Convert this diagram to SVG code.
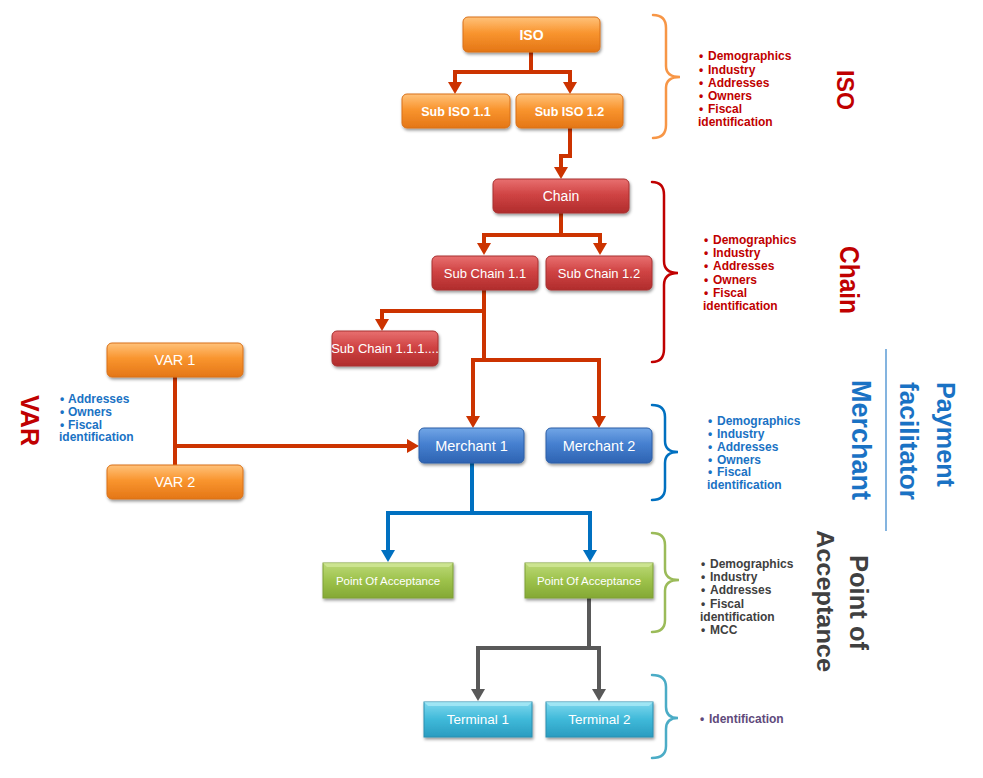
<svg xmlns="http://www.w3.org/2000/svg" width="983" height="778" viewBox="0 0 983 778">
<style>
.nt{font-family:"Liberation Sans",Arial,sans-serif;fill:#fff;text-anchor:middle;}
.b{font-weight:bold;}
.bl{font-family:"Liberation Sans",Arial,sans-serif;font-weight:bold;font-size:12px;}
.ttl{font-family:"Liberation Sans",Arial,sans-serif;font-weight:bold;}
.c-red{stroke:#cc3300;stroke-width:4;fill:none;}
.c-blue{stroke:#0070c0;stroke-width:4;fill:none;}
.c-gray{stroke:#595959;stroke-width:4;fill:none;}
.brace{fill:none;stroke-width:2.5;stroke-linecap:round;}
</style>
<defs>
<filter id="sh" x="-10%" y="-20%" width="130%" height="160%">
<feDropShadow dx="1" dy="2" stdDeviation="1.5" flood-color="#000" flood-opacity="0.4"/>
</filter>
<linearGradient id="gO" x1="0" y1="0" x2="0" y2="1">
<stop offset="0" stop-color="#ffc27a"/><stop offset="0.45" stop-color="#f9952f"/><stop offset="1" stop-color="#e47616"/>
</linearGradient>
<linearGradient id="gR" x1="0" y1="0" x2="0" y2="1">
<stop offset="0" stop-color="#e87070"/><stop offset="0.45" stop-color="#d04444"/><stop offset="1" stop-color="#b02c2c"/>
</linearGradient>
<linearGradient id="gB" x1="0" y1="0" x2="0" y2="1">
<stop offset="0" stop-color="#72a6e6"/><stop offset="0.45" stop-color="#4680d0"/><stop offset="1" stop-color="#2e63b2"/>
</linearGradient>
<linearGradient id="gG" x1="0" y1="0" x2="0" y2="1">
<stop offset="0" stop-color="#bcd978"/><stop offset="0.5" stop-color="#9dc24b"/><stop offset="1" stop-color="#84a834"/>
</linearGradient>
<linearGradient id="gT" x1="0" y1="0" x2="0" y2="1">
<stop offset="0" stop-color="#7fd8ee"/><stop offset="0.5" stop-color="#3fb9d9"/><stop offset="1" stop-color="#2a9cc0"/>
</linearGradient>
<marker id="aR" viewBox="0 0 12 14" refX="0" refY="7" markerWidth="12" markerHeight="14" markerUnits="userSpaceOnUse" orient="auto"><path d="M0,0 L12,7 L0,14 z" fill="#cc3300"/></marker>
<marker id="aB" viewBox="0 0 12 14" refX="0" refY="7" markerWidth="12" markerHeight="14" markerUnits="userSpaceOnUse" orient="auto"><path d="M0,0 L12,7 L0,14 z" fill="#0070c0"/></marker>
<marker id="aG" viewBox="0 0 12 14" refX="0" refY="7" markerWidth="12" markerHeight="14" markerUnits="userSpaceOnUse" orient="auto"><path d="M0,0 L12,7 L0,14 z" fill="#595959"/></marker>
</defs>
<rect width="983" height="778" fill="#fff"/>

<g id="connectors">
<path class="c-red" d="M531,52 V72 H455 V82" marker-end="url(#aR)"/>
<path class="c-red" d="M531,72 H570 V82" marker-end="url(#aR)"/>
<path class="c-red" d="M570,128 V156 H561 V167" marker-end="url(#aR)"/>
<path class="c-red" d="M561,213 V235 H484 V243" marker-end="url(#aR)"/>
<path class="c-red" d="M561,235 H600 V243" marker-end="url(#aR)"/>
<path class="c-red" d="M484,290 V311 H382 V319" marker-end="url(#aR)"/>
<path class="c-red" d="M484,311 V360 H473 V416" marker-end="url(#aR)"/>
<path class="c-red" d="M484,360 H599 V416" marker-end="url(#aR)"/>
<path class="c-red" d="M175,377 V465"/>
<path class="c-red" d="M175,446 H407" marker-end="url(#aR)"/>
<path class="c-blue" d="M472,463 V513 H388 V550" marker-end="url(#aB)"/>
<path class="c-blue" d="M472,513 H590 V550" marker-end="url(#aB)"/>
<path class="c-gray" d="M589,598 V648 H478 V689" marker-end="url(#aG)"/>
<path class="c-gray" d="M589,648 H599 V689" marker-end="url(#aG)"/>
</g>

<g id="iso"><rect x="463" y="17" width="137" height="35" rx="5" fill="url(#gO)" stroke="#d9711a" filter="url(#sh)"/><text class="nt b" x="531.5" y="40" font-size="14">ISO</text></g>
<g id="subiso11"><rect x="402" y="94" width="108" height="34" rx="5" fill="url(#gO)" stroke="#d9711a" filter="url(#sh)"/><text class="nt b" x="456" y="115.5" font-size="12.5">Sub ISO 1.1</text></g>
<g id="subiso12"><rect x="516" y="94" width="107" height="34" rx="5" fill="url(#gO)" stroke="#d9711a" filter="url(#sh)"/><text class="nt b" x="569.5" y="115.5" font-size="12.5">Sub ISO 1.2</text></g>

<g id="chain"><rect x="493" y="179" width="136" height="34" rx="5" fill="url(#gR)" stroke="#a83030" filter="url(#sh)"/><text class="nt" x="561" y="201" font-size="14">Chain</text></g>
<g id="subchain11"><rect x="432" y="256" width="106" height="34" rx="5" fill="url(#gR)" stroke="#a83030" filter="url(#sh)"/><text class="nt" x="485" y="277.5" font-size="13">Sub Chain 1.1</text></g>
<g id="subchain12"><rect x="546" y="256" width="106" height="34" rx="5" fill="url(#gR)" stroke="#a83030" filter="url(#sh)"/><text class="nt" x="599" y="277.5" font-size="13">Sub Chain 1.2</text></g>
<g id="subchain111"><rect x="332" y="331" width="106" height="35" rx="5" fill="url(#gR)" stroke="#a83030" filter="url(#sh)"/><text class="nt" x="385" y="353" font-size="13">Sub Chain 1.1.1....</text></g>

<g id="var1"><rect x="107" y="343" width="136" height="34" rx="5" fill="url(#gO)" stroke="#d9711a" filter="url(#sh)"/><text class="nt" x="175" y="365" font-size="14.5">VAR 1</text></g>
<g id="var2"><rect x="107" y="465" width="136" height="34" rx="5" fill="url(#gO)" stroke="#d9711a" filter="url(#sh)"/><text class="nt" x="175" y="487" font-size="14.5">VAR 2</text></g>

<g id="merchant1"><rect x="419" y="428" width="105" height="35" rx="5" fill="url(#gB)" stroke="#2d5fa6" filter="url(#sh)"/><text class="nt" x="471.5" y="451" font-size="14.5">Merchant 1</text></g>
<g id="merchant2"><rect x="546" y="428" width="106" height="35" rx="5" fill="url(#gB)" stroke="#2d5fa6" filter="url(#sh)"/><text class="nt" x="599" y="451" font-size="14.5">Merchant 2</text></g>

<g id="poa1"><rect x="323" y="563" width="130" height="35" fill="url(#gG)" stroke="#7f9f36" filter="url(#sh)"/><path d="M323,563 H453 L449,567 H327 Z" fill="#d4ea9c" opacity="0.7"/><text class="nt" x="388" y="584.5" font-size="11.5">Point Of Acceptance</text></g>
<g id="poa2"><rect x="525" y="563" width="128" height="35" fill="url(#gG)" stroke="#7f9f36" filter="url(#sh)"/><path d="M525,563 H653 L649,567 H529 Z" fill="#d4ea9c" opacity="0.7"/><text class="nt" x="589" y="584.5" font-size="11.5">Point Of Acceptance</text></g>

<g id="terminal1"><rect x="424" y="702" width="108" height="35" fill="url(#gT)" stroke="#2a8fb0" filter="url(#sh)"/><path d="M424,702 H532 L528,706 H428 Z" fill="#b0ecf8" opacity="0.7"/><text class="nt" x="478" y="724" font-size="13.5">Terminal 1</text></g>
<g id="terminal2"><rect x="546" y="702" width="107" height="35" fill="url(#gT)" stroke="#2a8fb0" filter="url(#sh)"/><path d="M546,702 H653 L649,706 H550 Z" fill="#b0ecf8" opacity="0.7"/><text class="nt" x="599.5" y="724" font-size="13.5">Terminal 2</text></g>

<g id="braces">
<path class="brace" stroke="#f79646" d="M653,15 Q666,15 666,28 V66 Q666,77 680,77 Q666,77 666,88 V125 Q666,138 653,138"/>
<path class="brace" stroke="#c00000" d="M652,182 Q664,182 664,195 V261 Q664,273 678,273 Q664,273 664,285 V349 Q664,362 652,362"/>
<path class="brace" stroke="#0070c0" d="M652,405 Q665,405 665,417 V441 Q665,452 678,452 Q665,452 665,463 V488 Q665,500 652,500"/>
<path class="brace" stroke="#9bbb59" d="M652,533 Q665,533 665,545 V569 Q665,580 679,580 Q665,580 665,591 V620 Q665,632 652,632"/>
<path class="brace" stroke="#4bacc6" d="M652,675 Q666,675 666,687 V707 Q666,718 678,718 Q666,718 666,729 V746 Q666,758 652,758"/>
</g>

<g id="iso-info" class="bl" fill="#c00000">
<text><tspan x="699" y="60">•</tspan><tspan x="708">Demographics</tspan></text>
<text><tspan x="699" y="73.5">•</tspan><tspan x="708">Industry</tspan></text>
<text><tspan x="699" y="86.5">•</tspan><tspan x="708">Addresses</tspan></text>
<text><tspan x="699" y="100">•</tspan><tspan x="708">Owners</tspan></text>
<text><tspan x="699" y="113">•</tspan><tspan x="708">Fiscal</tspan></text>
<text x="698" y="126">identification</text>
</g>
<g id="chain-info" class="bl" fill="#c00000">
<text><tspan x="704" y="244">•</tspan><tspan x="713">Demographics</tspan></text>
<text><tspan x="704" y="257">•</tspan><tspan x="713">Industry</tspan></text>
<text><tspan x="704" y="270">•</tspan><tspan x="713">Addresses</tspan></text>
<text><tspan x="704" y="283.5">•</tspan><tspan x="713">Owners</tspan></text>
<text><tspan x="704" y="297">•</tspan><tspan x="713">Fiscal</tspan></text>
<text x="703" y="310">identification</text>
</g>
<g id="merchant-info" class="bl" fill="#1a72c4">
<text><tspan x="708" y="425">•</tspan><tspan x="717">Demographics</tspan></text>
<text><tspan x="708" y="438">•</tspan><tspan x="717">Industry</tspan></text>
<text><tspan x="708" y="451">•</tspan><tspan x="717">Addresses</tspan></text>
<text><tspan x="708" y="463.5">•</tspan><tspan x="717">Owners</tspan></text>
<text><tspan x="708" y="476">•</tspan><tspan x="717">Fiscal</tspan></text>
<text x="707" y="489">identification</text>
</g>
<g id="poa-info" class="bl" fill="#404040">
<text><tspan x="701" y="567.5">•</tspan><tspan x="710">Demographics</tspan></text>
<text><tspan x="701" y="581">•</tspan><tspan x="710">Industry</tspan></text>
<text><tspan x="701" y="594">•</tspan><tspan x="710">Addresses</tspan></text>
<text><tspan x="701" y="607.5">•</tspan><tspan x="710">Fiscal</tspan></text>
<text x="700" y="621">identification</text>
<text><tspan x="701" y="634">•</tspan><tspan x="710">MCC</tspan></text>
</g>
<g id="terminal-info" class="bl" fill="#604a7b">
<text><tspan x="700" y="723">•</tspan><tspan x="709">Identification</tspan></text>
</g>
<g id="var-info" class="bl" fill="#1a72c4">
<text><tspan x="60" y="403">•</tspan><tspan x="68">Addresses</tspan></text>
<text><tspan x="60" y="415.5">•</tspan><tspan x="68">Owners</tspan></text>
<text><tspan x="60" y="428.5">•</tspan><tspan x="68">Fiscal</tspan></text>
<text x="59" y="441">identification</text>
</g>

<g id="titles" class="ttl">
<text transform="translate(837,70) rotate(90)" font-size="23" fill="#c00000" textLength="40" lengthAdjust="spacingAndGlyphs">ISO</text>
<text transform="translate(840,246) rotate(90)" font-size="28" fill="#c00000" textLength="68" lengthAdjust="spacingAndGlyphs">Chain</text>
<text transform="translate(852,380) rotate(90)" font-size="27" fill="#1a72c4" textLength="120" lengthAdjust="spacingAndGlyphs">Merchant</text>
<text transform="translate(937,382) rotate(90)" font-size="26" fill="#1a72c4" textLength="105" lengthAdjust="spacingAndGlyphs">Payment</text>
<text transform="translate(900,382) rotate(90)" font-size="26" fill="#1a72c4" textLength="118" lengthAdjust="spacingAndGlyphs">facilitator</text>
<text transform="translate(850,555) rotate(90)" font-size="25" fill="#404040" textLength="95" lengthAdjust="spacingAndGlyphs">Point of</text>
<text transform="translate(817,530) rotate(90)" font-size="24" fill="#404040" textLength="142" lengthAdjust="spacingAndGlyphs">Acceptance</text>
<text transform="translate(21,395) rotate(90)" font-size="26" fill="#c00000" textLength="51" lengthAdjust="spacingAndGlyphs">VAR</text>
<line x1="886" y1="349" x2="886" y2="531" stroke="#5b9bd5" stroke-width="1.5"/>
</g>
</svg>
